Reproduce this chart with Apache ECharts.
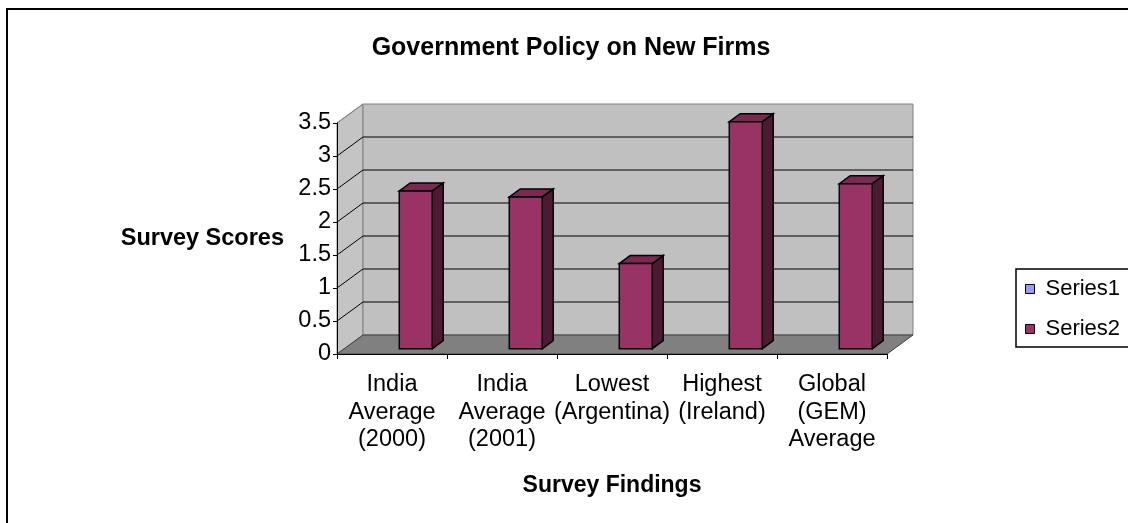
<!DOCTYPE html>
<html>
<head>
<meta charset="utf-8">
<title>Government Policy on New Firms</title>
<script src="https://cdn.jsdelivr.net/npm/echarts@6/dist/echarts.min.js"></script>
<style>
  html, body { margin: 0; padding: 0; background: #fff; }
  #chart { width: 1128px; height: 523px; }
</style>
</head>
<body>
<div id="chart"></div>
<script>
// Survey categories and scores
const categories = [
  'India\nAverage\n(2000)',
  'India\nAverage\n(2001)',
  'Lowest\n(Argentina)',
  'Highest\n(Ireland)',
  'Global\n(GEM)\nAverage'
];
const series1Values = [];
const series2Values = [2.39, 2.30, 1.29, 3.44, 2.50];
const yTicks = [0, 0.5, 1, 1.5, 2, 2.5, 3, 3.5];

// 3-D box geometry (pixels / fractions)
const DEPTH = [26, -19];          // offset from the front plane to the back wall
const BAR_FRONT = 0.28;           // bar front face, fraction of depth
const BAR_BACK = 0.70;            // bar back face, fraction of depth
const BAR_WIDTH = 0.30;           // bar width, fraction of the category band

const FONT = 'Liberation Sans, Arial, sans-serif';

function renderWalls(params, api) {
  const bw = api.size([1, 0])[0];
  const n = categories.length;
  const yMin = yTicks[0], yMax = yTicks[yTicks.length - 1];
  const L = api.coord([0, yMin])[0] - bw / 2;
  const R = api.coord([n - 1, yMin])[0] + bw / 2;
  const y0 = api.coord([0, yMin])[1];
  const yTop = api.coord([0, yMax])[1];
  const dx = DEPTH[0], dy = DEPTH[1];
  const children = [];
  // left side wall
  children.push({
    type: 'polygon',
    shape: { points: [[L, y0], [L, yTop], [L + dx, yTop + dy], [L + dx, y0 + dy]] },
    style: { fill: '#c4c4c4', stroke: '#808080', lineWidth: 1 }
  });
  // back wall
  children.push({
    type: 'rect',
    shape: { x: L + dx, y: yTop + dy, width: R - L, height: y0 - yTop },
    style: { fill: '#c0c0c0', stroke: '#808080', lineWidth: 1 }
  });
  // floor
  children.push({
    type: 'polygon',
    shape: { points: [[L, y0], [R, y0], [R + dx, y0 + dy], [L + dx, y0 + dy]] },
    style: { fill: '#808080', stroke: '#404040', lineWidth: 1 }
  });
  // gridlines on the side wall and back wall
  yTicks.forEach(function (v) {
    if (v === yMin) return;
    const y = api.coord([0, v])[1];
    children.push({
      type: 'line',
      shape: { x1: L, y1: y, x2: L + dx, y2: y + dy },
      style: { stroke: v === yMax ? '#808080' : '#000', lineWidth: 1 }
    });
    if (v !== yMax) {
      children.push({
        type: 'line',
        shape: { x1: L + dx, y1: y + dy, x2: R + dx, y2: y + dy },
        style: { stroke: '#000', lineWidth: 1.2 }
      });
    }
  });
  return { type: 'group', children: children };
}

function makeBarRenderer(colors) {
  return function (params, api) {
    const i = api.value(0), v = api.value(1);
    const bw = api.size([1, 0])[0];
    const top = api.coord([i, v]);
    const base = api.coord([i, 0]);
    const dx = DEPTH[0], dy = DEPTH[1];
    const fx = dx * BAR_FRONT, fy = dy * BAR_FRONT;
    const bdx = dx * (BAR_BACK - BAR_FRONT), bdy = dy * (BAR_BACK - BAR_FRONT);
    const w = bw * BAR_WIDTH;
    const x0 = top[0] + fx, x1 = x0 + w;
    const yT = top[1] + fy, yB = base[1] + fy;
    const edge = { stroke: '#000', lineWidth: 1.5, lineJoin: 'miter' };
    return {
      type: 'group',
      children: [
        {
          type: 'polygon',
          shape: { points: [[x1, yT], [x1 + bdx, yT + bdy], [x1 + bdx, yB + bdy], [x1, yB]] },
          style: Object.assign({ fill: colors.side }, edge)
        },
        {
          type: 'polygon',
          shape: { points: [[x0, yT], [x1, yT], [x1 + bdx, yT + bdy], [x0 + bdx, yT + bdy]] },
          style: Object.assign({ fill: colors.top }, edge)
        },
        {
          type: 'rect',
          shape: { x: x0, y: yT, width: w, height: yB - yT },
          style: Object.assign({ fill: colors.front }, edge)
        }
      ]
    };
  };
}

const chart = echarts.init(document.getElementById('chart'), null, { renderer: 'canvas' });

chart.setOption({
  animation: false,
  backgroundColor: '#fff',
  textStyle: { fontFamily: FONT, color: '#000' },
  title: {
    text: 'Government Policy on New Firms',
    left: 571,
    top: 36,
    textAlign: 'center',
    padding: 0,
    textStyle: { fontFamily: FONT, fontSize: 25, fontWeight: 'bold', color: '#000' }
  },
  legend: {
    orient: 'vertical',
    left: 1016,
    top: 269,
    icon: 'rect',
    itemWidth: 9,
    itemHeight: 9,
    itemGap: 18,
    padding: [9, 40, 7, 9],
    borderColor: '#000',
    borderWidth: 1.5,
    selectedMode: false,
    textStyle: { fontFamily: FONT, fontSize: 22, color: '#000', padding: [0, 0, 0, 6] },
    data: [
      { name: 'Series1', itemStyle: { color: '#9999ff', borderColor: '#000', borderWidth: 1 } },
      { name: 'Series2', itemStyle: { color: '#993366', borderColor: '#000', borderWidth: 1 } }
    ]
  },
  graphic: [
    {
      type: 'rect',
      shape: { x: 7, y: 9, width: 1200, height: 600 },
      style: { fill: 'none', stroke: '#000', lineWidth: 2 },
      silent: true
    }
  ],
  grid: { left: 337, right: 241, top: 123, bottom: 169, containLabel: false },
  xAxis: {
    type: 'category',
    data: categories,
    boundaryGap: true,
    z: 5,
    axisLine: { show: true, lineStyle: { color: '#000', width: 1 } },
    axisTick: { show: true, length: 5, alignWithLabel: false, lineStyle: { color: '#000' } },
    axisLabel: { interval: 0, fontFamily: FONT, fontSize: 23.5, lineHeight: 27.5, margin: 17, color: '#000' },
    splitLine: { show: false },
    name: 'Survey Findings',
    nameLocation: 'middle',
    nameGap: 120,
    nameTextStyle: { fontFamily: FONT, fontSize: 23, fontWeight: 'bold', color: '#000' }
  },
  yAxis: {
    type: 'value',
    min: 0,
    max: 3.5,
    interval: 0.5,
    z: 5,
    axisLine: { show: true, lineStyle: { color: '#000', width: 1 } },
    axisTick: { show: true, length: 4, lineStyle: { color: '#000' } },
    axisLabel: { fontFamily: FONT, fontSize: 23.5, margin: 6, color: '#000' },
    splitLine: { show: false },
    name: 'Survey Scores',
    nameLocation: 'middle',
    nameRotate: 0,
    nameGap: 53,
    nameTextStyle: { fontFamily: FONT, fontSize: 23.5, fontWeight: 'bold', color: '#000' }
  },
  series: [
    {
      name: 'walls',
      type: 'custom',
      z: 1,
      silent: true,
      clip: false,
      renderItem: renderWalls,
      data: [[0, 0]]
    },
    {
      name: 'Series1',
      type: 'custom',
      z: 3,
      clip: false,
      itemStyle: { color: '#9999ff' },
      renderItem: makeBarRenderer({ front: '#9999ff', top: '#7a7acc', side: '#4d4d80' }),
      data: series1Values.map(function (v, i) { return [i, v]; })
    },
    {
      name: 'Series2',
      type: 'custom',
      z: 3,
      clip: false,
      itemStyle: { color: '#993366' },
      renderItem: makeBarRenderer({ front: '#993366', top: '#7a2952', side: '#4d1a33' }),
      data: series2Values.map(function (v, i) { return [i, v]; })
    }
  ]
});
</script>
</body>
</html>
